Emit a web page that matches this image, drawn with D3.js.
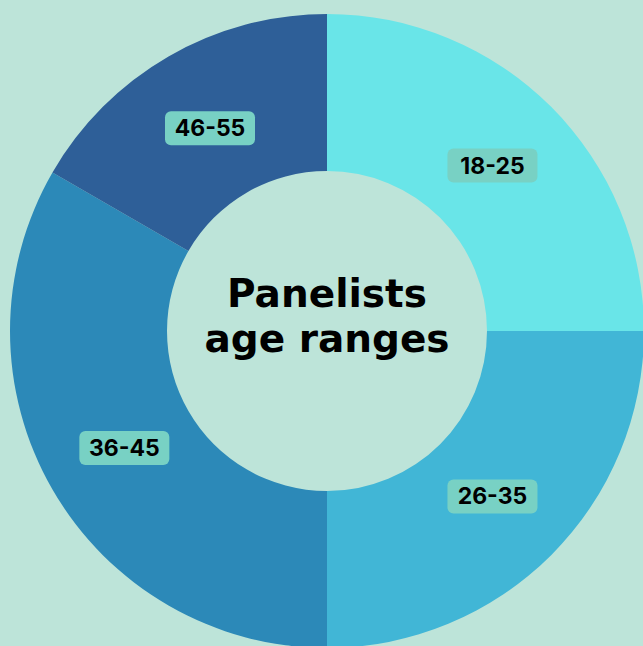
<!DOCTYPE html>
<html>
<head>
<meta charset="utf-8">
<script src="https://cdn.jsdelivr.net/npm/d3@7"></script>
<style>
  html, body { margin: 0; padding: 0; background: #bde4d9; overflow: hidden; }
  svg { display: block; }
</style>
</head>
<body>
<svg id="chart" width="643" height="646"></svg>
<script>
// age groups and their share of panelists
var ageRanges = ["18-25", "26-35", "36-45", "46-55"];
var panelists = [3, 3, 4, 2];
var sliceColors = ["#69e5e8", "#41b6d6", "#2c89b8", "#2e5f98"];
var titleLines = ["Panelists", "age ranges"];

var width = 643,
	height = 646,
	cx = 327,
	cy = 331,
	outerR = 317,
	innerR = 160,
	labelR = 234;

var svg = d3.select("#chart");

var data = ageRanges.map(function(name, i) {
	return { name: name, value: panelists[i] };
});

var color = d3.scaleOrdinal()
	.domain(ageRanges)
	.range(sliceColors);

var pie = d3.pie()
	.sort(null)
	.value(function(d) { return d.value; });

var arc = d3.arc()
	.innerRadius(innerR)
	.outerRadius(outerR);

var labelArc = d3.arc()
	.innerRadius(labelR)
	.outerRadius(labelR);

var g = svg.append("g")
	.attr("transform", "translate(" + cx + "," + cy + ")");

var arcs = pie(data);

// slices
g.selectAll(".slice")
	.data(arcs)
	.enter()
	.append("path")
	.attr("class", "slice")
	.attr("d", arc)
	.attr("fill", function(d) { return color(d.data.name); });

// labels with rounded boxes
var labels = g.selectAll(".label")
	.data(arcs)
	.enter()
	.append("g")
	.attr("class", "label")
	.attr("transform", function(d) {
		var c = labelArc.centroid(d);
		return "translate(" + c[0] + "," + c[1] + ")";
	});

labels.append("rect")
	.attr("x", -45)
	.attr("y", -17)
	.attr("width", 90)
	.attr("height", 34)
	.attr("rx", 6)
	.attr("fill", "#78d1c4");

labels.append("text")
	.attr("text-anchor", "middle")
	.attr("y", 8)
	.attr("font-family", "Inter, 'DejaVu Sans', sans-serif")
	.attr("font-weight", "bold")
	.attr("font-size", 23)
	.attr("fill", "#000")
	.text(function(d) { return d.data.name; });

// title in the hole
g.append("text")
	.attr("text-anchor", "middle")
	.attr("font-family", "'DejaVu Sans', sans-serif")
	.attr("font-weight", "bold")
	.attr("font-size", 39)
	.attr("fill", "#000")
	.selectAll("tspan")
	.data(titleLines)
	.enter()
	.append("tspan")
	.attr("x", 0)
	.attr("y", function(d, i) { return -24 + i * 45; })
	.text(function(d) { return d; });
</script>
</body>
</html>
